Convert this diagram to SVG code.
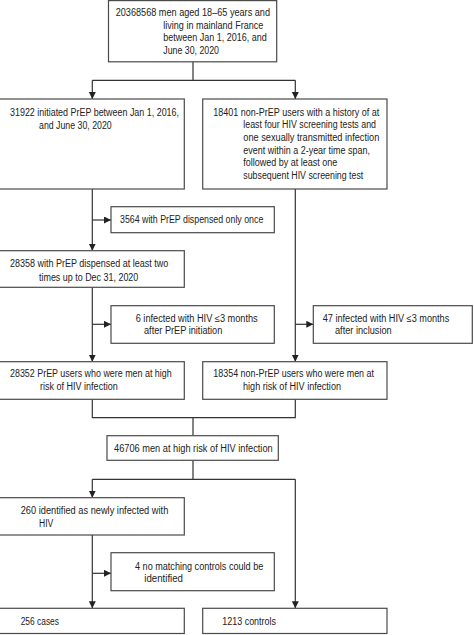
<svg xmlns="http://www.w3.org/2000/svg" width="474" height="635" viewBox="0 0 474 635">
<style>
rect.b{fill:#fff;stroke:#4a4a4a;stroke-width:1.2}
text{font-family:"Liberation Sans",Arial,sans-serif;font-size:10px;fill:#222}
.c path{fill:none;stroke:#333;stroke-width:1.2}
</style>
<defs>
<marker id="ah" markerUnits="userSpaceOnUse" markerWidth="8" markerHeight="8" refX="7" refY="3.5" orient="auto">
<path d="M0,0 L7,3.5 L0,7 z" fill="#222"/>
</marker>
</defs>
<rect width="474" height="635" fill="#fff"/>
<g class="c" id="connectors">
<path d="M193,62 V80.3 M92.3,80.3 H295.3"/>
<path d="M92.3,80.3 V99" marker-end="url(#ah)"/>
<path d="M295.3,80.3 V99" marker-end="url(#ah)"/>
<path d="M92.3,189 V250.7" marker-end="url(#ah)"/>
<path d="M92.3,220 H111" marker-end="url(#ah)"/>
<path d="M92.3,287.3 V361.7" marker-end="url(#ah)"/>
<path d="M92.3,324.3 H111" marker-end="url(#ah)"/>
<path d="M295.3,189 V361.7" marker-end="url(#ah)"/>
<path d="M295.3,324.3 H313.3" marker-end="url(#ah)"/>
<path d="M92.3,399.3 V417.7 H295.3 V399.3 M193,417.7 V435.7"/>
<path d="M193,460.3 V479.3 M92.3,479.3 H295.3"/>
<path d="M92.3,479.3 V497.7" marker-end="url(#ah)"/>
<path d="M295.3,479.3 V608.3" marker-end="url(#ah)"/>
<path d="M92.3,535 V608.3" marker-end="url(#ah)"/>
<path d="M92.3,573.3 H111" marker-end="url(#ah)"/>
</g>
<g id="n_top">
<rect class="b" x="108.5" y="0.6" width="168.2" height="61.2"/>
<text x="115.7" y="16.1" textLength="154.3" lengthAdjust="spacingAndGlyphs">20368568 men aged 18–65 years and</text>
<text x="163.3" y="28.5" textLength="100" lengthAdjust="spacingAndGlyphs">living in mainland France</text>
<text x="163.3" y="41.1" textLength="103.4" lengthAdjust="spacingAndGlyphs">between Jan 1, 2016, and</text>
<text x="163.3" y="53.8" textLength="55.7" lengthAdjust="spacingAndGlyphs">June 30, 2020</text>
</g>
<g id="n_prep">
<rect class="b" x="-2" y="99" width="186.3" height="90"/>
<text x="10" y="115.5" textLength="169" lengthAdjust="spacingAndGlyphs">31922 initiated PrEP between Jan 1, 2016,</text>
<text x="39" y="128.8" textLength="72.7" lengthAdjust="spacingAndGlyphs">and June 30, 2020</text>
</g>
<g id="n_nonprep">
<rect class="b" x="202.7" y="99" width="184.3" height="90"/>
<text x="213.3" y="115.5" textLength="166" lengthAdjust="spacingAndGlyphs">18401 non-PrEP users with a history of at</text>
<text x="243.3" y="128.1" textLength="132.7" lengthAdjust="spacingAndGlyphs">least four HIV screening tests and</text>
<text x="243.3" y="140.8" textLength="136" lengthAdjust="spacingAndGlyphs">one sexually transmitted infection</text>
<text x="243.3" y="153.8" textLength="126.7" lengthAdjust="spacingAndGlyphs">event within a 2-year time span,</text>
<text x="243.3" y="166.1" textLength="94" lengthAdjust="spacingAndGlyphs">followed by at least one</text>
<text x="243.3" y="178.5" textLength="120" lengthAdjust="spacingAndGlyphs">subsequent HIV screening test</text>
</g>
<g id="n_once">
<rect class="b" x="111" y="206.7" width="163.3" height="26"/>
<text x="120" y="223.1" textLength="143.3" lengthAdjust="spacingAndGlyphs">3564 with PrEP dispensed only once</text>
</g>
<g id="n_28358">
<rect class="b" x="-2" y="250.7" width="186.3" height="36.6"/>
<text x="10" y="267.1" textLength="158.3" lengthAdjust="spacingAndGlyphs">28358 with PrEP dispensed at least two</text>
<text x="39" y="280.5" textLength="99.3" lengthAdjust="spacingAndGlyphs">times up to Dec 31, 2020</text>
</g>
<g id="n_6">
<rect class="b" x="111" y="305.7" width="163.3" height="37.6"/>
<text x="135.7" y="321.5" textLength="122" lengthAdjust="spacingAndGlyphs">6 infected with HIV ≤3 months</text>
<text x="144" y="333.8" textLength="78.3" lengthAdjust="spacingAndGlyphs">after PrEP initiation</text>
</g>
<g id="n_47">
<rect class="b" x="313.3" y="305.7" width="159" height="37.6"/>
<text x="322.7" y="321.5" textLength="126.6" lengthAdjust="spacingAndGlyphs">47 infected with HIV ≤3 months</text>
<text x="335" y="333.8" textLength="56.7" lengthAdjust="spacingAndGlyphs">after inclusion</text>
</g>
<g id="n_28352">
<rect class="b" x="-2" y="361.7" width="186.3" height="37.6"/>
<text x="10" y="377.1" textLength="161.7" lengthAdjust="spacingAndGlyphs">28352 PrEP users who were men at high</text>
<text x="40" y="389.8" textLength="77.7" lengthAdjust="spacingAndGlyphs">risk of HIV infection</text>
</g>
<g id="n_18354">
<rect class="b" x="202.7" y="361.7" width="184.3" height="37.6"/>
<text x="213.3" y="377.1" textLength="160.7" lengthAdjust="spacingAndGlyphs">18354 non-PrEP users who were men at</text>
<text x="243" y="389.8" textLength="98" lengthAdjust="spacingAndGlyphs">high risk of HIV infection</text>
</g>
<g id="n_46706">
<rect class="b" x="107" y="435.7" width="171.3" height="24.6"/>
<text x="114" y="452.1" textLength="158.7" lengthAdjust="spacingAndGlyphs">46706 men at high risk of HIV infection</text>
</g>
<g id="n_260">
<rect class="b" x="-2" y="497.7" width="186.3" height="37.3"/>
<text x="20.7" y="513.8" textLength="147.6" lengthAdjust="spacingAndGlyphs">260 identified as newly infected with</text>
<text x="39" y="527.1" textLength="14.3" lengthAdjust="spacingAndGlyphs">HIV</text>
</g>
<g id="n_4">
<rect class="b" x="111" y="552.7" width="163.3" height="38"/>
<text x="135" y="569.5" textLength="128.3" lengthAdjust="spacingAndGlyphs">4 no matching controls could be</text>
<text x="144.3" y="582.1" textLength="38.7" lengthAdjust="spacingAndGlyphs">identified</text>
</g>
<g id="n_256">
<rect class="b" x="-2" y="608.3" width="186.3" height="25.2"/>
<text x="20.7" y="624.5" textLength="38.3" lengthAdjust="spacingAndGlyphs">256 cases</text>
</g>
<g id="n_1213">
<rect class="b" x="202.7" y="608.3" width="184.3" height="25.2"/>
<text x="222.3" y="624.5" textLength="53.7" lengthAdjust="spacingAndGlyphs">1213 controls</text>
</g>
</svg>
